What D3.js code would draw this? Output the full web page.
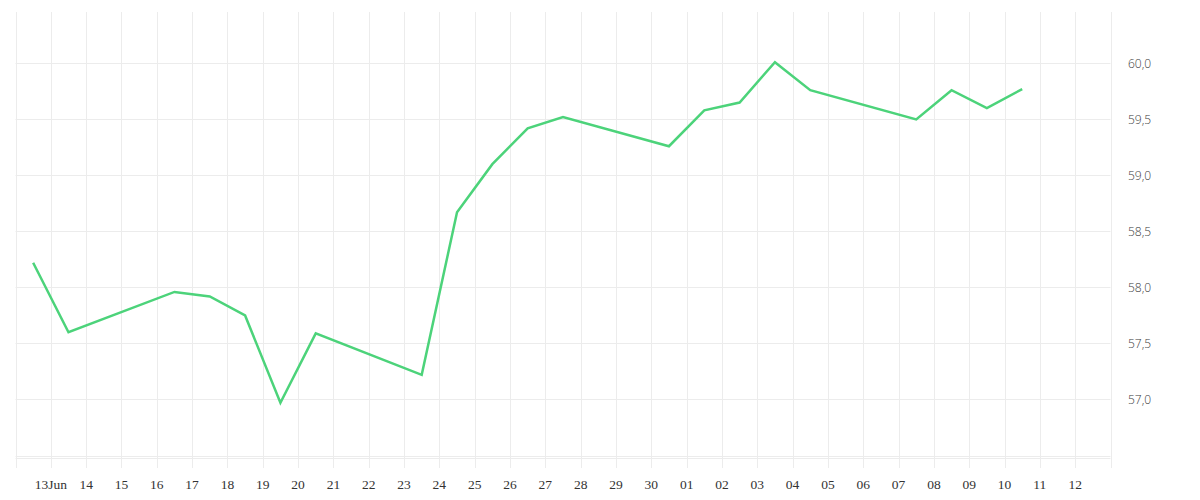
<!DOCTYPE html>
<html>
<head>
<meta charset="utf-8">
<script src="https://cdn.jsdelivr.net/npm/d3@7"></script>
<style>
  body { margin: 0; background: #fff; }
  svg { display: block; }
  .grid line { stroke: #ececec; stroke-width: 1; }
  .xlab { font-family: "Liberation Serif", serif; font-size: 13.5px; fill: #333; }
  .ylab { font-family: "Open Sans", sans-serif; font-size: 12px; fill: #3a3a3a; font-weight: 300; }
</style>
</head>
<body>
<svg id="chart" width="1200" height="500"></svg>
<script>
// trading days and closing values
const dates = [
  "2019-06-13", "2019-06-14", "2019-06-17", "2019-06-18", "2019-06-19",
  "2019-06-20", "2019-06-21", "2019-06-24", "2019-06-25", "2019-06-26",
  "2019-06-27", "2019-06-28", "2019-07-01", "2019-07-02", "2019-07-03",
  "2019-07-04", "2019-07-05", "2019-07-08", "2019-07-09", "2019-07-10",
  "2019-07-11"
];
const values = [
  58.22, 57.60, 57.96, 57.92, 57.75,
  56.97, 57.59, 57.22, 58.67, 59.10,
  59.42, 59.52, 59.26, 59.58, 59.65,
  60.01, 59.76, 59.50, 59.76, 59.60,
  59.77
];
const yTicks = [57.0, 57.5, 58.0, 58.5, 59.0, 59.5, 60.0];
const yGrid = [56.5, 57.0, 57.5, 58.0, 58.5, 59.0, 59.5, 60.0];

const parse = d3.timeParse("%Y-%m-%d");
const data = dates.map((d, i) => ({ date: parse(d), value: values[i] }));

const svg = d3.select("#chart");
const plotLeft = 15.5, plotRight = 1110.5, plotTop = 12, plotBottom = 455.5;

const x = d3.scaleTime()
  .domain([d3.timeHour.offset(parse("2019-06-12"), 12), d3.timeHour.offset(parse("2019-07-13"), 12)])
  .range([plotLeft, plotRight]);

const y = d3.scaleLinear()
  .domain([56.5, 60.458])
  .range([plotBottom, plotTop]);

// day grid sits at noon, labels follow it
const dayTicks = d3.timeDay.range(parse("2019-06-12"), parse("2019-07-14"))
  .map(d => d3.timeHour.offset(d, 12));

const grid = svg.append("g").attr("class", "grid");

grid.selectAll(".vline")
  .data(dayTicks)
  .join("line")
  .attr("class", "vline")
  .attr("x1", d => Math.round(x(d)) + 0.5)
  .attr("x2", d => Math.round(x(d)) + 0.5)
  .attr("y1", plotTop)
  .attr("y2", 468);

grid.selectAll(".hline")
  .data(yGrid)
  .join("line")
  .attr("class", "hline")
  .attr("x1", plotLeft)
  .attr("x2", plotRight)
  .attr("y1", d => Math.round(y(d)) + 0.5)
  .attr("y2", d => Math.round(y(d)) + 0.5);

// x axis base line
grid.append("line")
  .attr("x1", plotLeft).attr("x2", plotRight)
  .attr("y1", 458.5).attr("y2", 458.5);

const fmtDay = d3.timeFormat("%d");
const labelled = dayTicks.filter(d => d > x.domain()[0] && d < x.domain()[1]);

svg.append("g")
  .selectAll("text")
  .data(labelled)
  .join("text")
  .attr("class", "xlab")
  .attr("x", d => x(d))
  .attr("y", 489)
  .attr("text-anchor", "middle")
  .text((d, i) => i === 0 ? fmtDay(d) + "Jun" : fmtDay(d));

const fmtY = v => d3.format(".1f")(v).replace(".", ",");

svg.append("g")
  .selectAll("text")
  .data(yTicks)
  .join("text")
  .attr("class", "ylab")
  .attr("x", 1128)
  .attr("y", d => y(d))
  .attr("dy", "0.35em")
  .text(fmtY);

const line = d3.line()
  .x(d => x(d.date))
  .y(d => y(d.value));

svg.append("path")
  .datum(data)
  .attr("fill", "none")
  .attr("stroke", "#4cd37a")
  .attr("stroke-width", 2.5)
  .attr("stroke-linejoin", "miter")
  .attr("d", line);
</script>
</body>
</html>
